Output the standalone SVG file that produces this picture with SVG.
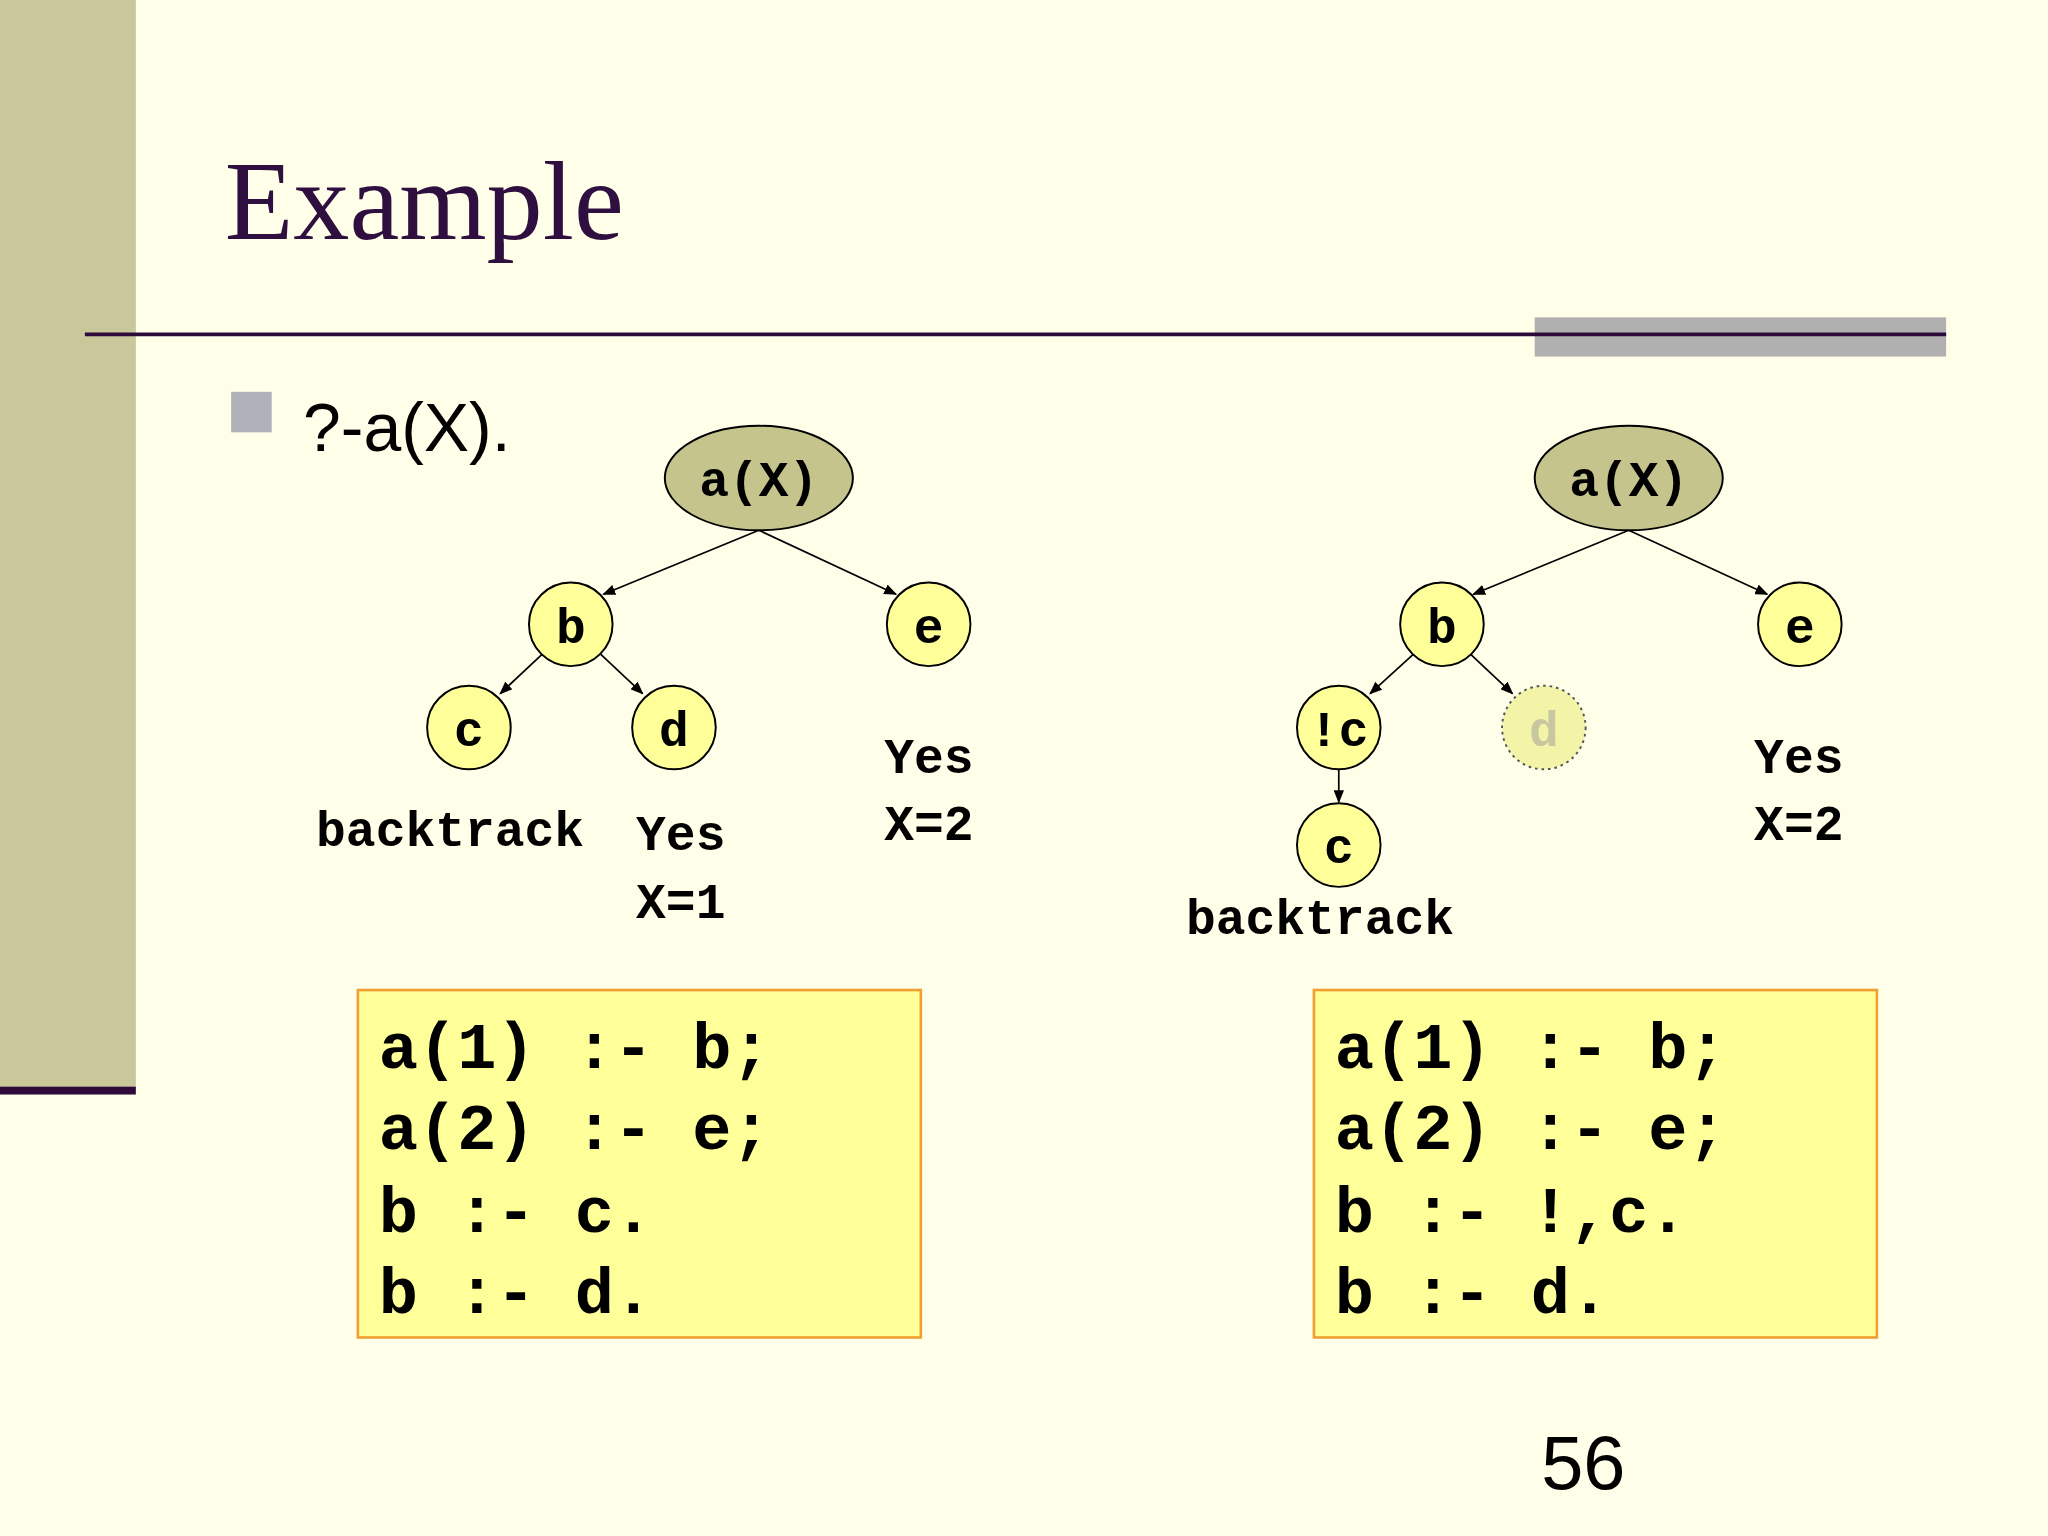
<svg xmlns="http://www.w3.org/2000/svg" width="2048" height="1536" viewBox="0 0 2048 1536">
<style>
.m{font-family:"Liberation Mono",monospace;font-weight:bold;fill:#000}
.t{font-size:38px}
.code{font-size:50px}
.n{fill:#ffff99;stroke:#000;stroke-width:1.5}
.r{fill:#c4c48c;stroke:#000;stroke-width:1.5}
.e{stroke:#000;stroke-width:1.3;fill:none;marker-end:url(#ah)}
.box{fill:#ffff99;stroke:#f0a030;stroke-width:2}
</style>
<defs><marker id="ah" markerWidth="10" markerHeight="8" refX="9" refY="4" orient="auto" markerUnits="userSpaceOnUse"><path d="M0,0 L10,4 L0,8 Z" fill="#000"/></marker></defs>
<rect width="2048" height="1536" fill="#fffee8"/>
<g transform="scale(1.30612)">
<rect x="0" y="0" width="104" height="835" fill="#c8c89a"/>
<rect x="0" y="832" width="104" height="6" fill="#2e0a3a"/>
<text x="172" y="183" font-family="Liberation Serif,serif" font-size="86" fill="#2e0f3f">Example</text>
<rect x="1175" y="243" width="315" height="30" fill="#b0b0b0"/>
<line x1="65" y1="256" x2="1490" y2="256" stroke="#2e0a3a" stroke-width="3"/>
<rect x="177" y="300" width="31" height="31" fill="#b0b0b8"/>
<text x="232" y="345" font-family="Liberation Sans,sans-serif" font-size="52">?-a(X).</text>
<g id="connectors">
<line class="e" x1="581" y1="406" x2="462" y2="455"/>
<line class="e" x1="581" y1="406" x2="686" y2="455"/>
<line class="e" x1="415" y1="501" x2="383" y2="531"/>
<line class="e" x1="460" y1="501" x2="492" y2="531"/>
<line class="e" x1="1247" y1="406" x2="1128" y2="455"/>
<line class="e" x1="1247" y1="406" x2="1353" y2="455"/>
<line class="e" x1="1082" y1="501" x2="1049" y2="531"/>
<line class="e" x1="1126" y1="501" x2="1158" y2="531"/>
<line class="e" x1="1025" y1="589" x2="1025" y2="614"/>
</g>
<g id="L_root"><ellipse class="r" cx="581" cy="366" rx="72" ry="40"/><text class="m t" x="581" y="380" text-anchor="middle">a(X)</text></g>
<g id="L_b"><circle class="n" cx="437" cy="478" r="32"/><text class="m t" x="437" y="492" text-anchor="middle">b</text></g>
<g id="L_e"><circle class="n" cx="711" cy="478" r="32"/><text class="m t" x="711" y="492" text-anchor="middle">e</text></g>
<g id="L_c"><circle class="n" cx="359" cy="557" r="32"/><text class="m t" x="359" y="571" text-anchor="middle">c</text></g>
<g id="L_d"><circle class="n" cx="516" cy="557" r="32"/><text class="m t" x="516" y="571" text-anchor="middle">d</text></g>
<g id="L_labels" class="m t">
<text x="242" y="648">backtrack</text>
<text x="487" y="651">Yes</text><text x="487" y="703">X=1</text>
<text x="677" y="592">Yes</text><text x="677" y="643">X=2</text>
</g>
<g id="R_root"><ellipse class="r" cx="1247" cy="366" rx="72" ry="40"/><text class="m t" x="1247" y="380" text-anchor="middle">a(X)</text></g>
<g id="R_b"><circle class="n" cx="1104" cy="478" r="32"/><text class="m t" x="1104" y="492" text-anchor="middle">b</text></g>
<g id="R_e"><circle class="n" cx="1378" cy="478" r="32"/><text class="m t" x="1378" y="492" text-anchor="middle">e</text></g>
<g id="R_cut"><circle class="n" cx="1025" cy="557" r="32"/><text class="m t" x="1025" y="571" text-anchor="middle">!c</text></g>
<g id="R_d"><circle cx="1182" cy="557" r="32" fill="#f4f4a8" stroke="#555" stroke-width="1.5" stroke-dasharray="2,3"/><text class="m t" x="1182" y="571" text-anchor="middle" style="fill:#c8c8a0">d</text></g>
<g id="R_c"><circle class="n" cx="1025" cy="647" r="32"/><text class="m t" x="1025" y="661" text-anchor="middle">c</text></g>
<g id="R_labels" class="m t">
<text x="908" y="715">backtrack</text>
<text x="1343" y="592">Yes</text><text x="1343" y="643">X=2</text>
</g>
<g id="L_code"><rect class="box" x="274" y="758" width="431" height="266"/>
<g class="m code"><text x="290" y="818">a(1) :- b;</text><text x="290" y="880">a(2) :- e;</text><text x="290" y="943">b :- c.</text><text x="290" y="1005">b :- d.</text></g></g>
<g id="R_code"><rect class="box" x="1006" y="758" width="431" height="266"/>
<g class="m code"><text x="1022" y="818">a(1) :- b;</text><text x="1022" y="880">a(2) :- e;</text><text x="1022" y="943">b :- !,c.</text><text x="1022" y="1005">b :- d.</text></g></g>
<text x="1180" y="1140" font-family="Liberation Sans,sans-serif" font-size="58">56</text>
</g>
</svg>
